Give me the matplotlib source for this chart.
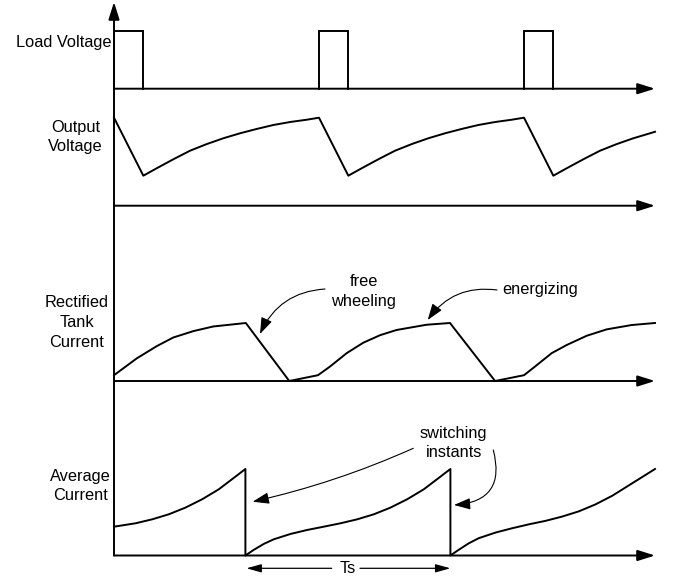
import matplotlib
matplotlib.use("Agg")
import matplotlib.pyplot as plt

# time axis in units of the switching period Ts (0 = vertical axis)
T_END = 2.639

# load voltage: rectangular pulses
pulse_starts = [0.0, 1.0, 2.0]
pulse_width = 0.142

# output voltage (1.0 = peak)
out_t = [0.0, 0.143, 0.208, 0.289, 0.371, 0.452, 0.533, 0.615, 0.696, 0.777, 0.859, 0.940, 1.0,
         1.143, 1.208, 1.289, 1.371, 1.452, 1.533, 1.615, 1.696, 1.777, 1.859, 1.940, 2.0,
         2.143, 2.208, 2.289, 2.371, 2.452, 2.533, 2.615, 2.639]
out_v = [1.0, 0.341, 0.425, 0.527, 0.625, 0.700, 0.766, 0.823, 0.872, 0.917, 0.951, 0.977, 1.0,
         0.341, 0.425, 0.527, 0.625, 0.700, 0.766, 0.823, 0.872, 0.917, 0.951, 0.977, 1.0,
         0.341, 0.425, 0.527, 0.625, 0.700, 0.766, 0.823, 0.840]

# rectified tank current (1.0 = peak)
tank_t = [0.0, 0.111, 0.208, 0.289, 0.387, 0.484, 0.643, 0.855,
          0.995, 1.054, 1.135, 1.216, 1.298, 1.379, 1.525, 1.639, 1.859,
          2.0, 2.054, 2.135, 2.208, 2.306, 2.403, 2.525, 2.639]
tank_v = [0.10, 0.39, 0.60, 0.75, 0.86, 0.94, 1.0, 0.0,
          0.10, 0.25, 0.48, 0.66, 0.79, 0.88, 0.97, 1.0, 0.0,
          0.10, 0.25, 0.48, 0.62, 0.78, 0.89, 0.965, 1.0]

# average current (1.0 = value at switching instant)
avg_t = [0.0, 0.104, 0.186, 0.267, 0.348, 0.430, 0.511, 0.592, 0.641,
         0.641, 0.681, 0.730, 0.779, 0.861, 0.942, 1.023, 1.104, 1.186,
         1.267, 1.348, 1.430, 1.511, 1.592, 1.641,
         1.641, 1.681, 1.730, 1.779, 1.861, 1.942, 2.023, 2.104, 2.186,
         2.267, 2.348, 2.430, 2.511, 2.592, 2.639]
avg_v = [0.333, 0.372, 0.418, 0.476, 0.553, 0.650, 0.765, 0.911, 1.0,
         0.0, 0.064, 0.133, 0.187, 0.249, 0.295, 0.333, 0.372, 0.418,
         0.476, 0.553, 0.650, 0.765, 0.911, 1.0,
         0.0, 0.065, 0.140, 0.200, 0.265, 0.315, 0.360, 0.400, 0.450,
         0.510, 0.590, 0.690, 0.810, 0.930, 1.0]

switch_instants = [0.641, 1.641]

# layout: baseline / height of each trace (figure pixels from top)
BASE = {"load": 88.7, "out": 205.7, "tank": 381.0, "avg": 555.5}
SCALE = {"load": 58.0, "out": 88.0, "tank": 58.0, "avg": 86.5}
X0_PX, PERIOD_PX = 114.0, 205.0
W_PX, H_PX = 675, 579

plt.rcParams["font.family"] = ["Liberation Sans", "DejaVu Sans"]
FS = 11.8
LW = 1.4


def ypos(panel, vals):
    return [BASE[panel] - SCALE[panel] * v for v in vals]


def px(x):
    # horizontal figure pixel -> time units
    return (x - X0_PX) / PERIOD_PX


def arrow(ax, start, tip, rad=0.0, hl=1.05, hw=0.36, lw=LW):
    ax.annotate("", xy=tip, xytext=start,
                arrowprops=dict(arrowstyle=f"-|>,head_length={hl},head_width={hw}",
                                mutation_scale=10, color="black", lw=lw,
                                shrinkA=0, shrinkB=0,
                                connectionstyle=f"arc3,rad={rad}"))


fig = plt.figure(figsize=(W_PX / 100, H_PX / 100), dpi=100)
ax = fig.add_axes([0, 0, 1, 1])
ax.set_xlim(px(0), px(W_PX))
ax.set_ylim(H_PX, 0)
ax.axis("off")

# axes of the timing diagram
arrow(ax, (0, BASE["avg"]), (0, 2.0), hl=1.05, hw=0.33)
for key in ["load", "out", "tank", "avg"]:
    arrow(ax, (0, BASE[key]), (T_END, BASE[key]), hl=1.05, hw=0.33)

# load voltage pulses
for s in pulse_starts:
    xs = [s, s, s + pulse_width, s + pulse_width]
    ax.plot(xs, ypos("load", [0, 1, 1, 0]), color="black", lw=LW,
            solid_joinstyle="miter")

ax.plot(out_t, ypos("out", out_v), color="black", lw=LW)
ax.plot(tank_t, ypos("tank", tank_v), color="black", lw=LW)
ax.plot(avg_t, ypos("avg", avg_v), color="black", lw=LW)

# trace labels
ax.text(px(111), 46.7, "Load Voltage", fontsize=FS, ha="right", va="baseline")
for line, yb in [("Output", 131.7), ("Voltage", 151.0)]:
    ax.text(px(75.5), yb, line, fontsize=FS, ha="center", va="baseline")
for line, yb in [("Rectified", 307.3), ("Tank", 327.3), ("Current", 347.3)]:
    ax.text(px(77), yb, line, fontsize=FS, ha="center", va="baseline")
for line, yb in [("Average", 480.7), ("Current", 500.0)]:
    ax.text(px(80.3), yb, line, fontsize=FS, ha="center", va="baseline")

# annotations
for line, yb in [("free", 286.0), ("wheeling", 306.0)]:
    ax.text(px(363.5), yb, line, fontsize=FS, ha="center", va="baseline")
arrow(ax, (px(325), 289), (px(260), 334), rad=0.3, hl=1.0, hw=0.35, lw=0.8)

ax.text(px(502.7), 294.0, "energizing", fontsize=FS, ha="left", va="baseline")
arrow(ax, (px(497), 290), (px(427.7), 320), rad=0.3, hl=1.0, hw=0.35, lw=0.8)

for line, yb in [("switching", 437.7), ("instants", 456.7)]:
    ax.text(px(453.8), yb, line, fontsize=FS, ha="center", va="baseline")
arrow(ax, (px(413.3), 448.3), (px(252.7), 501.7), rad=-0.05, hl=1.0, hw=0.35, lw=0.8)
arrow(ax, (px(493.3), 450), (px(454), 505), rad=-0.6, hl=1.0, hw=0.35, lw=0.8)

# switching period Ts
ts_y = 568.3
ax.text((switch_instants[0] + switch_instants[1]) / 2, 573.3, "Ts", fontsize=FS,
        ha="center", va="baseline")
arrow(ax, (px(331.7), ts_y), (switch_instants[0] + 0.005, ts_y), hl=0.9, hw=0.25, lw=0.9)
arrow(ax, (px(360), ts_y), (switch_instants[1], ts_y), hl=0.9, hw=0.25, lw=0.9)

fig.savefig("out.png", dpi=100)
